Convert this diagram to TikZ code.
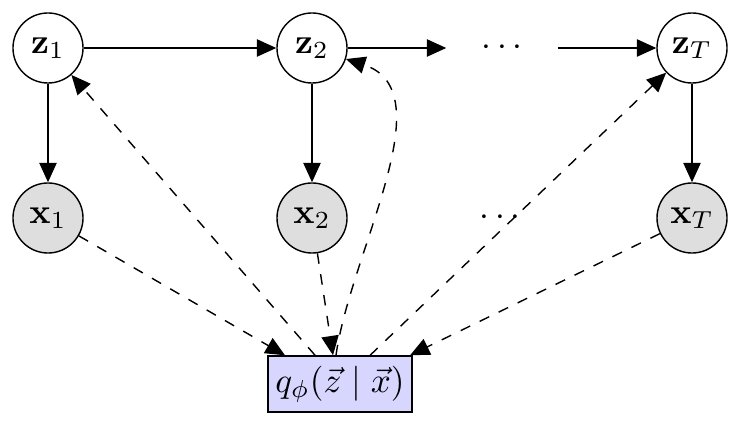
\documentclass[tikz,border=0pt]{standalone}
\usetikzlibrary{arrows.meta,positioning}
\tikzset{
  latent node/.style={circle,draw,thin,minimum size=7mm,inner sep=0pt},
  obs node/.style={latent node,fill=black!13},
  dots node/.style={minimum width=11mm,inner sep=0pt},
  gen edge/.style={-{Triangle[length=5.5pt,width=4.9pt]},thin},
  inf edge/.style={gen edge,dashed},
  guide box/.style={draw,thin,fill=blue!16,minimum width=14.4mm,minimum height=5.6mm,inner sep=1pt},
}
\begin{document}
\begin{tikzpicture}[x=0.01cm,y=0.01cm]
  \useasboundingbox (0,0) rectangle (737,-434);
  % generative chain
  \node[latent node] (z1) at (48,-48) {$\mathbf{z}_1$};
  \node[latent node] (z2) at (312,-48) {$\mathbf{z}_2$};
  \node[dots node] (zd) at (502,-48) {$\cdots$};
  \node[latent node] (zT) at (692,-48) {$\mathbf{z}_T$};
  \node[obs node] (x1) at (48,-218) {$\mathbf{x}_1$};
  \node[obs node] (x2) at (312,-218) {$\mathbf{x}_2$};
  \node[dots node] (xd) at (500,-218) {$\cdots$};
  \node[obs node] (xT) at (692,-218) {$\mathbf{x}_T$};
  \node[guide box] (q) at (340,-384) {$q_\phi(\vec{z} \mid \vec{x})$};
  \draw[gen edge] (z1) -- (z2);
  \draw[gen edge] (z2) -- (zd);
  \draw[gen edge] (zd) -- (zT);
  \draw[gen edge] (z1) -- (x1);
  \draw[gen edge] (z2) -- (x2);
  \draw[gen edge] (zT) -- (xT);
  % inference network
  \draw[inf edge] (x1) -- ([xshift=-0.55cm]q.north);
  \draw[inf edge] (x2) -- ([xshift=-0.07cm]q.north);
  \draw[inf edge] (xT) -- ([xshift=0.7cm]q.north);
  \draw[inf edge] (q) -- (z1);
  \draw[inf edge] ([xshift=-0.04cm]q.north) to[out=82,in=-18,looseness=0.9] (z2);
  \draw[inf edge] (q) -- (zT);
\end{tikzpicture}
\end{document}
